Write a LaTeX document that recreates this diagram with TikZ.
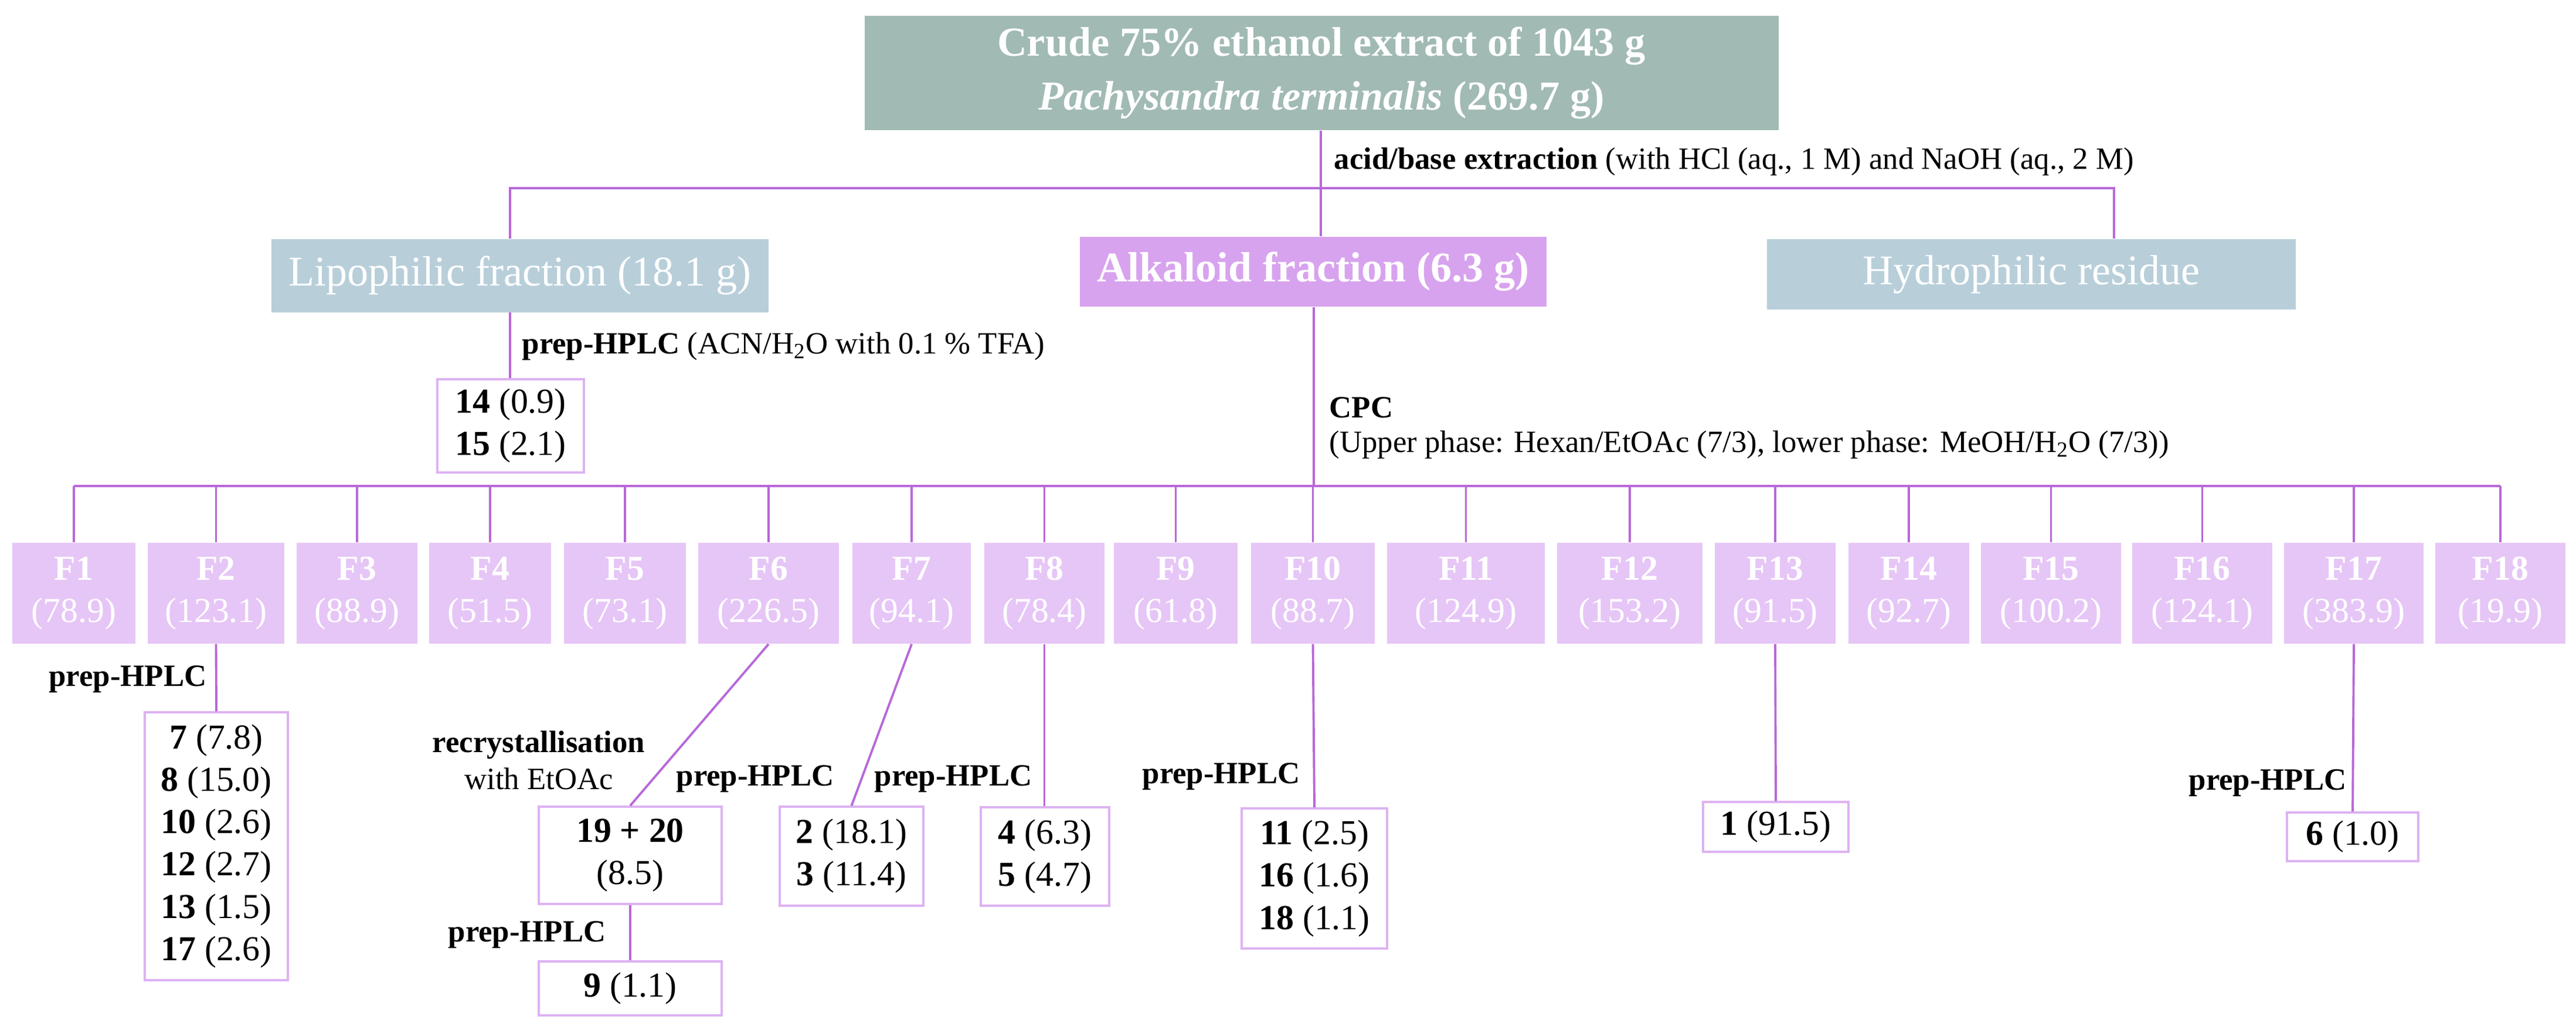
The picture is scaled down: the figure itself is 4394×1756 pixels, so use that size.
\documentclass[tikz,border=0pt]{standalone}
\usepackage{fontspec}
\setmainfont{Liberation Serif}
\definecolor{topc}{HTML}{A1BAB4}
\definecolor{lipc}{HTML}{B8CFDA}
\definecolor{alkc}{HTML}{D8A3EE}
\definecolor{frc}{HTML}{E6C6F6}
\definecolor{linec}{HTML}{B868D8}
\definecolor{boxc}{HTML}{DDB2F2}
\begin{document}
\begin{tikzpicture}[x=0.01cm,y=-0.01cm,
  conn/.style={draw=linec,line width=1.1pt},
  fillbox/.style={inner sep=0pt,text=white,align=center},
  sz/.style 2 args={minimum width=#1*0.01cm,minimum height=#2*0.01cm},
  fbox/.style={fillbox,fill=frc,sz={#1}{172},font=\fontsize{17}{20.5}\selectfont},
  cbox/.style={draw=boxc,line width=1pt,fill=white,inner sep=0pt,align=center,font=\fontsize{17}{20.5}\selectfont},
  lab/.style={inner sep=0pt,font=\fontsize{15}{18}\selectfont}]
\useasboundingbox (0,0) rectangle (4394,1756);
% top level
\node[fillbox,fill=topc,sz={1559}{195},font=\bfseries\fontsize{20}{26}\selectfont] (top) at (2254,124.5) {Crude 75\% ethanol extract of 1043 g\\\textit{Pachysandra terminalis} (269.7 g)};
\node[fillbox,fill=lipc,sz={848}{125},font=\fontsize{20.5}{24}\selectfont] (lip) at (887,470) {Lipophilic fraction (18.1 g)};
\node[fillbox,fill=alkc,sz={796}{119},font=\bfseries\fontsize{20.5}{24}\selectfont] (alk) at (2240,463.5) {Alkaloid fraction (6.3 g)};
\node[fillbox,fill=lipc,sz={902}{120},font=\fontsize{20.5}{24}\selectfont] (hyd) at (3465,468) {Hydrophilic residue};
\coordinate (jL) at (870,321);
\coordinate (jT) at (2253,321);
\coordinate (jR) at (3606,321);
\draw[conn] (top.south -| jT) -- (jT);
\draw[conn] (jL |- lip.north) -- (jL) -- (jR) -- (jR |- hyd.north);
\draw[conn] (jT) -- (jT |- alk.north);
\node[lab,anchor=west] (acidlab) at (2275,276) {\textbf{acid/base extraction} (with HCl (aq., 1 M) and NaOH (aq., 2 M)};
% lipophilic
\node[cbox,sz={250}{159}] (b1415) at (871,726.5) {\textbf{14} (0.9)\\\textbf{15} (2.1)};
\draw[conn] (jL |- lip.south) -- (jL |- b1415.north);
\node[lab,anchor=west] (lipprep) at (890,591) {\textbf{prep-HPLC} (ACN/H\textsubscript{2}O with 0.1 \% TFA)};
% CPC
\coordinate (jF) at (2241,829);
\draw[conn] (alk.south -| jF) -- (jF);
\node[lab,anchor=west] (cpc1) at (2267,695) {\textbf{CPC}};
\node[lab,anchor=west] (cpc2) at (2267,759) {(Upper phase: Hexan/EtOAc (7/3), lower phase: MeOH/H\textsubscript{2}O (7/3))};
% fractions
\foreach \n/\l/\r/\v in {1/21/231/78.9, 2/252/485/123.1, 3/506/712/88.9, 4/732/940/51.5, 5/962/1170/73.1, 6/1191/1431/226.5, 7/1454/1656/94.1, 8/1679/1884/78.4, 9/1900/2111/61.8, 10/2134/2345/88.7, 11/2366/2635/124.9, 12/2656/2904/153.2, 13/2925/3131/91.5, 14/3153/3359/92.7, 15/3379/3618/100.2, 16/3637/3876/124.1, 17/3896/4134/383.9, 18/4154/4376/19.9}{
  \pgfmathsetmacro{\cx}{(\l+\r)/2}
  \pgfmathsetmacro{\w}{\r-\l}
  \node[fbox=\w] (F\n) at (\cx,1012) {\textbf{F\n}\\(\v)};
  \draw[conn] (F\n.north) -- (F\n.north |- jF);
}
\draw[conn] (F1.north |- jF) -- (F18.north |- jF);
% children
\node[cbox,sz={244}{457}] (b2) at (369,1443.5) {\textbf{7} (7.8)\\\textbf{8} (15.0)\\\textbf{10} (2.6)\\\textbf{12} (2.7)\\\textbf{13} (1.5)\\\textbf{17} (2.6)};
\draw[conn] (F2.south) -- (b2.north);
\node[lab,anchor=east] (p2) at (353,1159) {\textbf{prep-HPLC}};

\node[cbox,sz={312}{166}] (b1920) at (1075,1459) {\textbf{19 + 20}\\(8.5)};
\draw[conn] (F6.south) -- (b1920.north);
\node[lab,align=center] (rec) at (919,1297) {\textbf{recrystallisation}\\with EtOAc};
\node[cbox,sz={312}{92}] (b9) at (1075,1686) {\textbf{9} (1.1)};
\draw[conn] (b1920.south) -- (b9.north);
\node[lab,anchor=west] (p9) at (764,1595) {\textbf{prep-HPLC}};

\node[cbox,sz={245}{169}] (b23) at (1452.5,1460.5) {\textbf{2} (18.1)\\\textbf{3} (11.4)};
\draw[conn] (F7.south) -- (b23.north);
\node[lab,anchor=west] (p7) at (1153,1329) {\textbf{prep-HPLC}};

\node[cbox,sz={219}{168}] (b45) at (1782.5,1461) {\textbf{4} (6.3)\\\textbf{5} (4.7)};
\draw[conn] (F8.south) -- (F8.south |- b45.north);
\node[lab,anchor=west] (p8) at (1491,1329) {\textbf{prep-HPLC}};

\node[cbox,sz={248}{239}] (b11) at (2242,1498.5) {\textbf{11} (2.5)\\\textbf{16} (1.6)\\\textbf{18} (1.1)};
\draw[conn] (F10.south) -- (b11.north);
\node[lab,anchor=east] (p10) at (2218,1325) {\textbf{prep-HPLC}};

\node[cbox,sz={248}{85}] (b1) at (3029,1410.5) {\textbf{1} (91.5)};
\draw[conn] (F13.south) -- (b1.north);

\node[cbox,sz={224}{83}] (b6) at (4013,1427.5) {\textbf{6} (1.0)};
\draw[conn] (F17.south) -- (b6.north);
\node[lab,anchor=east] (p17) at (4003,1336) {\textbf{prep-HPLC}};
\end{tikzpicture}
\end{document}
